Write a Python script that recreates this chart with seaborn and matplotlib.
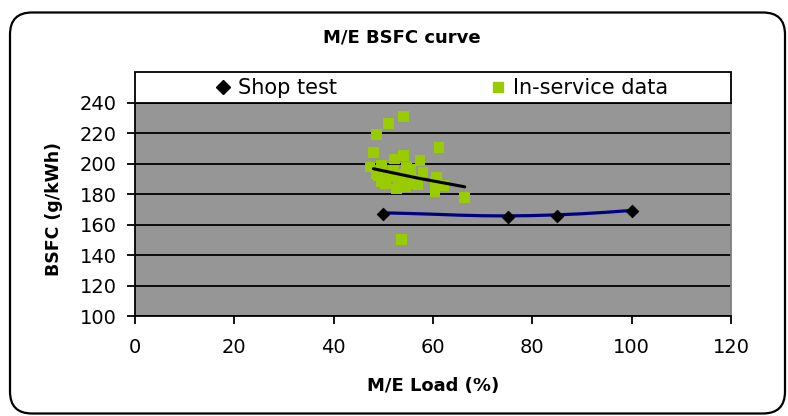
import matplotlib
matplotlib.use("Agg")
import matplotlib.pyplot as plt
import matplotlib.transforms as mtransforms
from matplotlib.patches import FancyBboxPatch, Rectangle
from matplotlib.lines import Line2D
import pandas as pd
import seaborn as sns

# Shop test points (load %, BSFC g/kWh)
shop_load = [50, 75, 85, 100]
shop_bsfc = [167.1, 165.0, 166.0, 169.3]

# Fitted curve through the shop test points
shop_fit_load = [50, 55, 60, 65, 70, 75, 80, 85, 90, 95, 100]
shop_fit_bsfc = [167.8, 167.4, 166.9, 166.3, 165.9, 165.8, 166.0, 166.5, 167.2, 168.2, 169.4]

# In-service measurements
service_load = [54.0, 51.0, 48.7, 48.0, 61.2, 54.0, 52.3, 57.4, 47.3, 49.7,
                54.7, 58.0, 60.7, 48.7, 51.0, 53.0, 56.0, 49.7, 54.4, 52.7,
                60.4, 62.1, 60.4, 66.4, 53.7, 50.5, 52.0, 55.5, 57.0, 49.0,
                53.5, 55.0]
service_bsfc = [231.0, 226.6, 219.1, 207.6, 210.8, 205.5, 203.2, 202.2, 197.9, 199.0,
                197.9, 194.6, 191.4, 193.5, 191.4, 189.2, 189.2, 188.1, 184.9, 183.4,
                181.6, 186.0, 188.1, 177.9, 150.3, 187.0, 196.0, 196.5, 186.5, 192.0,
                193.0, 187.0]

# Trend line of the in-service data
service_fit_load = [48.0, 57.0, 66.4]
service_fit_bsfc = [196.8, 190.6, 184.9]

x_ticks = [0, 20, 40, 60, 80, 100, 120]
y_ticks = [100, 120, 140, 160, 180, 200, 220, 240]

sns.set_style("white")
plt.rcParams["font.family"] = ["DejaVu Sans"]
plt.rcParams["text.color"] = "black"
plt.rcParams["axes.labelcolor"] = "black"
plt.rcParams["xtick.color"] = "black"
plt.rcParams["ytick.color"] = "black"

W, H = 788, 416
fig = plt.figure(figsize=(W / 100, H / 100), dpi=100)
fig.patch.set_facecolor("white")

# Rounded chart border
border = FancyBboxPatch((10, 2.5), 775, 401, boxstyle="round,pad=0,rounding_size=22",
                        transform=mtransforms.IdentityTransform(),
                        facecolor="none", edgecolor="black", linewidth=1.6)
fig.add_artist(border)

left, right, top, bottom = 135, 731, 103, 316
ax = fig.add_axes([left / W, 1 - bottom / H, (right - left) / W, (bottom - top) / H])
ax.set_facecolor("#969696")

df_service = pd.DataFrame({"load": service_load, "bsfc": service_bsfc})
df_shop = pd.DataFrame({"load": shop_load, "bsfc": shop_bsfc})
df_shop_fit = pd.DataFrame({"load": shop_fit_load, "bsfc": shop_fit_bsfc})
df_service_fit = pd.DataFrame({"load": service_fit_load, "bsfc": service_fit_bsfc})

sns.scatterplot(data=df_service, x="load", y="bsfc", marker="s", s=60,
                color="#99CC00", edgecolor="none", linewidth=0, ax=ax,
                legend=False, zorder=3)
sns.lineplot(data=df_service_fit, x="load", y="bsfc", color="black", linewidth=2.2,
             ax=ax, legend=False, zorder=4)
sns.lineplot(data=df_shop_fit, x="load", y="bsfc", color="#000080", linewidth=2.3,
             ax=ax, legend=False, zorder=4)
sns.scatterplot(data=df_shop, x="load", y="bsfc", marker="D", s=42, color="black",
                edgecolor="black", linewidth=0.5, ax=ax, legend=False, zorder=5)

ax.set_xlim(0, 120)
ax.set_ylim(100, 240)
ax.set_xticks(x_ticks)
ax.set_yticks(y_ticks)
ax.yaxis.grid(True, color="black", linewidth=1.3)
ax.xaxis.grid(False)
ax.set_axisbelow(True)

for side in ["left", "bottom", "top"]:
    ax.spines[side].set_color("black")
    ax.spines[side].set_linewidth(1.3)
ax.spines["right"].set_color("#808080")
ax.spines["right"].set_linewidth(1.3)

ax.tick_params(axis="both", which="major", direction="out", length=6, width=1.3,
               color="black", labelsize=14, labelcolor="black")
ax.tick_params(axis="x", pad=10)
ax.tick_params(axis="y", pad=7)
ax.tick_params(left=True, bottom=True)

ax.set_xlabel("M/E Load (%)", fontsize=13, fontweight="bold", labelpad=14, color="black")
ax.set_ylabel("BSFC (g/kWh)", fontsize=12.5, fontweight="bold", labelpad=12, color="black")

# Legend band above the plot area
legend_box = Rectangle((left / W, 1 - top / H), (right - left) / W, (top - 72) / H,
                       transform=fig.transFigure, facecolor="white",
                       edgecolor="black", linewidth=1.3)
fig.add_artist(legend_box)

shop_handle = Line2D([], [], marker="D", color="black", linestyle="none", markersize=7)
service_handle = Line2D([], [], marker="s", color="#99CC00", linestyle="none", markersize=7)
leg1 = fig.legend(handles=[shop_handle], labels=["Shop test"], loc="center",
                  bbox_to_anchor=(276 / W, 1 - 88 / H), frameon=False, fontsize=15,
                  handletextpad=0.3, handlelength=0.8, labelcolor="black")
leg2 = fig.legend(handles=[service_handle], labels=["In-service data"], loc="center",
                  bbox_to_anchor=(579 / W, 1 - 88 / H), frameon=False, fontsize=15,
                  handletextpad=0.3, handlelength=0.8, labelcolor="black")

fig.text(402 / W, 1 - 38 / H, "M/E BSFC curve", ha="center", va="center",
         fontsize=13, fontweight="bold", color="black")

fig.savefig("out.png", dpi=100, facecolor="white")
